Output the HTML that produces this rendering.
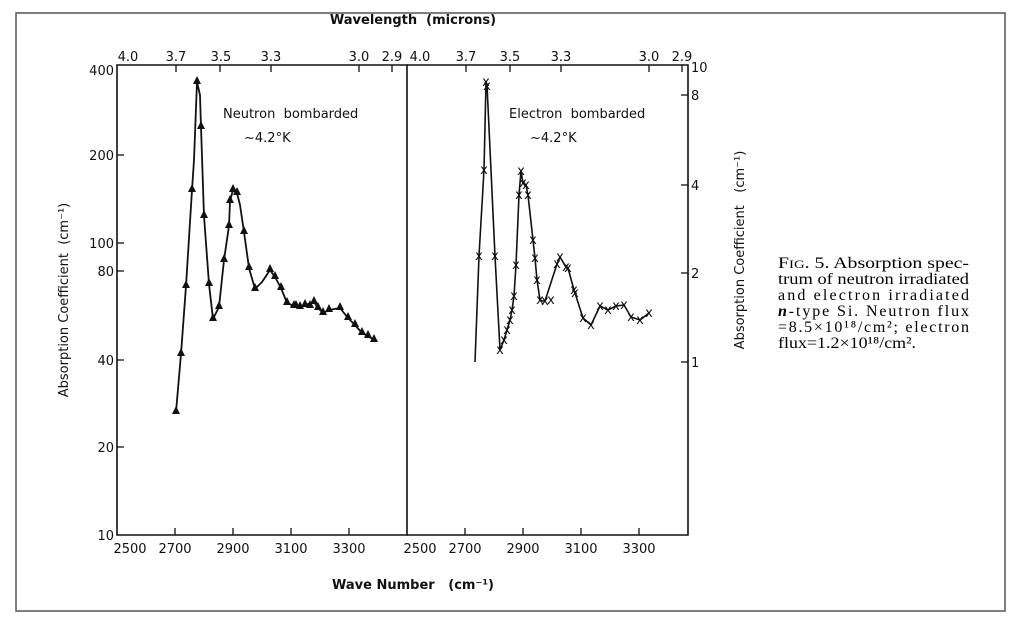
<!DOCTYPE html>
<html><head><meta charset="utf-8"><style>
body{margin:0;background:#fff;}
svg{display:block;}
.s{font-family:"DejaVu Sans","Liberation Sans",sans-serif;font-size:13px;fill:#111;}
.c{font-family:"Liberation Serif",serif;font-size:16px;fill:#000;}
</style></head><body>
<svg width="1024" height="618" viewBox="0 0 1024 618" xmlns="http://www.w3.org/2000/svg">
<rect x="16" y="13" width="989" height="598" fill="none" stroke="#555" stroke-width="1.5"/>
<g stroke="#111" stroke-width="1.6" fill="none">
<path d="M117 65 V535 H407 V65 Z"/>
<path d="M407 535 H688 V65 H407"/>
</g>
<g stroke="#111" stroke-width="1.3">
<line x1="117" y1="155" x2="124" y2="155"/><line x1="117" y1="243" x2="124" y2="243"/>
<line x1="117" y1="271" x2="124" y2="271"/><line x1="117" y1="360" x2="124" y2="360"/>
<line x1="117" y1="447" x2="124" y2="447"/>
<line x1="681" y1="95" x2="688" y2="95"/><line x1="681" y1="185" x2="688" y2="185"/>
<line x1="681" y1="273" x2="688" y2="273"/><line x1="681" y1="362" x2="688" y2="362"/>
<line x1="175" y1="535" x2="175" y2="528"/><line x1="233" y1="535" x2="233" y2="528"/>
<line x1="291" y1="535" x2="291" y2="528"/><line x1="349" y1="535" x2="349" y2="528"/>
<line x1="465" y1="535" x2="465" y2="528"/><line x1="523" y1="535" x2="523" y2="528"/>
<line x1="581" y1="535" x2="581" y2="528"/><line x1="639" y1="535" x2="639" y2="528"/>
<line x1="176" y1="65" x2="176" y2="72"/><line x1="220" y1="65" x2="220" y2="72"/>
<line x1="271" y1="65" x2="271" y2="72"/><line x1="359" y1="65" x2="359" y2="72"/><line x1="392" y1="65" x2="392" y2="72"/>
<line x1="466" y1="65" x2="466" y2="72"/><line x1="510" y1="65" x2="510" y2="72"/>
<line x1="561" y1="65" x2="561" y2="72"/><line x1="649" y1="65" x2="649" y2="72"/><line x1="682" y1="65" x2="682" y2="72"/>
</g>
<g class="s" text-anchor="end">
<text x="114" y="75">400</text><text x="114" y="160">200</text><text x="114" y="248">100</text>
<text x="114" y="276">80</text><text x="114" y="365">40</text><text x="114" y="452">20</text><text x="114" y="540">10</text>
</g>
<g class="s">
<text x="691" y="72">10</text><text x="691" y="100">8</text><text x="691" y="190">4</text>
<text x="691" y="278">2</text><text x="691" y="367">1</text>
</g>
<g class="s" text-anchor="middle">
<text x="130" y="553">2500</text><text x="175" y="553">2700</text><text x="233" y="553">2900</text>
<text x="291" y="553">3100</text><text x="349" y="553">3300</text>
<text x="420" y="553">2500</text><text x="465" y="553">2700</text><text x="523" y="553">2900</text>
<text x="581" y="553">3100</text><text x="639" y="553">3300</text>
<text x="128" y="61">4.0</text><text x="176" y="61">3.7</text><text x="221" y="61">3.5</text>
<text x="271" y="61">3.3</text><text x="359" y="61">3.0</text><text x="392" y="61">2.9</text>
<text x="420" y="61">4.0</text><text x="466" y="61">3.7</text><text x="510" y="61">3.5</text>
<text x="561" y="61">3.3</text><text x="649" y="61">3.0</text><text x="682" y="61">2.9</text>
<text x="413" y="24" font-weight="600">Wavelength&#160;&#160;(microns)</text>
<text x="413" y="589" font-weight="600">Wave Number&#160;&#160;&#160;(cm⁻¹)</text>
</g>
<text class="s" transform="translate(68,300) rotate(-90)" text-anchor="middle">Absorption Coefficient&#160;&#160;(cm⁻¹)</text>
<text class="s" transform="translate(744,250) rotate(-90)" text-anchor="middle">Absorption Coefficient&#160;&#160;&#160;(cm⁻¹)</text>
<text class="s" x="223" y="118">Neutron&#160;&#160;bombarded</text>
<text class="s" x="244" y="142">~4.2°K</text>
<text class="s" x="509" y="118">Electron&#160;&#160;bombarded</text>
<text class="s" x="530" y="142">~4.2°K</text>
<polyline fill="none" stroke="#111" stroke-width="1.8" stroke-linejoin="round" points="176,412 181,354 186,286 192,190 194,160 197,82 200,95 201,127 204,216 209,284 213,319 219,307 224,260 229,226 230,201 233,190 237,193 240,205 244,232 249,268 255,289 262,282 270,270 275,277 281,288 287,303 294,306 300,307 305,305 314,302 318,308 323,313 329,310 340,308 348,318 355,325 362,333 368,336 374,340"/>
<g fill="#111">
<polygon points="176,406 172,414 180,414"/><polygon points="181,348 177,356 185,356"/><polygon points="186,280 182,288 190,288"/>
<polygon points="192,184 188,192 196,192"/><polygon points="197,76 193,84 201,84"/><polygon points="201,121 197,129 205,129"/>
<polygon points="204,210 200,218 208,218"/><polygon points="209,278 205,286 213,286"/><polygon points="213,313 209,321 217,321"/>
<polygon points="219,301 215,309 223,309"/><polygon points="224,254 220,262 228,262"/><polygon points="229,220 225,228 233,228"/>
<polygon points="230,195 226,203 234,203"/><polygon points="233,184 229,192 237,192"/><polygon points="237,187 233,195 241,195"/>
<polygon points="244,226 240,234 248,234"/><polygon points="249,262 245,270 253,270"/><polygon points="255,283 251,291 259,291"/>
<polygon points="270,264 266,272 274,272"/><polygon points="275,271 271,279 279,279"/><polygon points="281,282 277,290 285,290"/>
<polygon points="287,297 283,305 291,305"/><polygon points="294,300 290,308 298,308"/><polygon points="300,301 296,309 304,309"/>
<polygon points="305,299 301,307 309,307"/><polygon points="314,296 310,304 318,304"/><polygon points="318,302 314,310 322,310"/>
<polygon points="323,307 319,315 327,315"/><polygon points="329,304 325,312 333,312"/><polygon points="340,302 336,310 344,310"/>
<polygon points="348,312 344,320 352,320"/><polygon points="355,319 351,327 359,327"/><polygon points="362,327 358,335 366,335"/>
<polygon points="368,330 364,338 372,338"/><polygon points="374,334 370,342 378,342"/><polygon points="296,300 292,308 300,308"/><polygon points="310,300 306,308 314,308"/>
</g>
<polyline fill="none" stroke="#111" stroke-width="1.6" stroke-linejoin="round" points="475,362 479,256 484,170 486,82 487,85 495,256 500,350 504,340 507,330 510,320 512,310 514,296 516,265 519,195 521,171 523,183 526,185 528,195 533,240 535,258 537,280 540,300 542,301 545,301 557,264 560,257 566,267 568,268 574,290 575,293 583,318 591,325 600,306 608,310 616,306 624,305 631,317 640,320 649,313"/>
<g class="s" font-size="10" text-anchor="middle" fill="#111">
<text x="479" y="260">x</text><text x="484" y="174">x</text><text x="486" y="86">x</text><text x="487" y="90">x</text>
<text x="495" y="260">x</text><text x="500" y="354">x</text><text x="504" y="344">x</text><text x="507" y="334">x</text>
<text x="510" y="324">x</text><text x="512" y="314">x</text><text x="514" y="300">x</text><text x="516" y="269">x</text>
<text x="519" y="199">x</text><text x="521" y="175">x</text><text x="523" y="187">x</text><text x="526" y="189">x</text>
<text x="528" y="199">x</text><text x="533" y="244">x</text><text x="535" y="262">x</text><text x="537" y="284">x</text>
<text x="540" y="304">x</text><text x="545" y="305">x</text><text x="551" y="304">x</text><text x="557" y="268">x</text><text x="560" y="261">x</text>
<text x="566" y="271">x</text><text x="568" y="272">x</text><text x="574" y="294">x</text><text x="575" y="297">x</text>
<text x="583" y="322">x</text><text x="591" y="329">x</text><text x="600" y="310">x</text><text x="608" y="314">x</text>
<text x="616" y="310">x</text><text x="624" y="309">x</text><text x="631" y="321">x</text><text x="640" y="324">x</text><text x="649" y="317">x</text>
</g>
<g class="c" text-anchor="start">
<text x="778" y="268" textLength="191" lengthAdjust="spacingAndGlyphs">F<tspan font-size="12">IG</tspan>. 5. Absorption spec-</text>
<text x="778" y="284" textLength="191" lengthAdjust="spacingAndGlyphs">trum of neutron irradiated</text>
<text x="778" y="300" textLength="191" lengthAdjust="spacing">and electron irradiated</text>
<text x="778" y="316" textLength="191" lengthAdjust="spacing"><tspan font-style="italic" font-weight="bold">n</tspan>-type Si. Neutron flux</text>
<text x="778" y="332" textLength="191" lengthAdjust="spacing">=8.5×10¹⁸/cm²; electron</text>
<text x="778" y="348" textLength="138" lengthAdjust="spacingAndGlyphs">flux=1.2×10¹⁸/cm².</text>
</g>
</svg>
</body></html>
